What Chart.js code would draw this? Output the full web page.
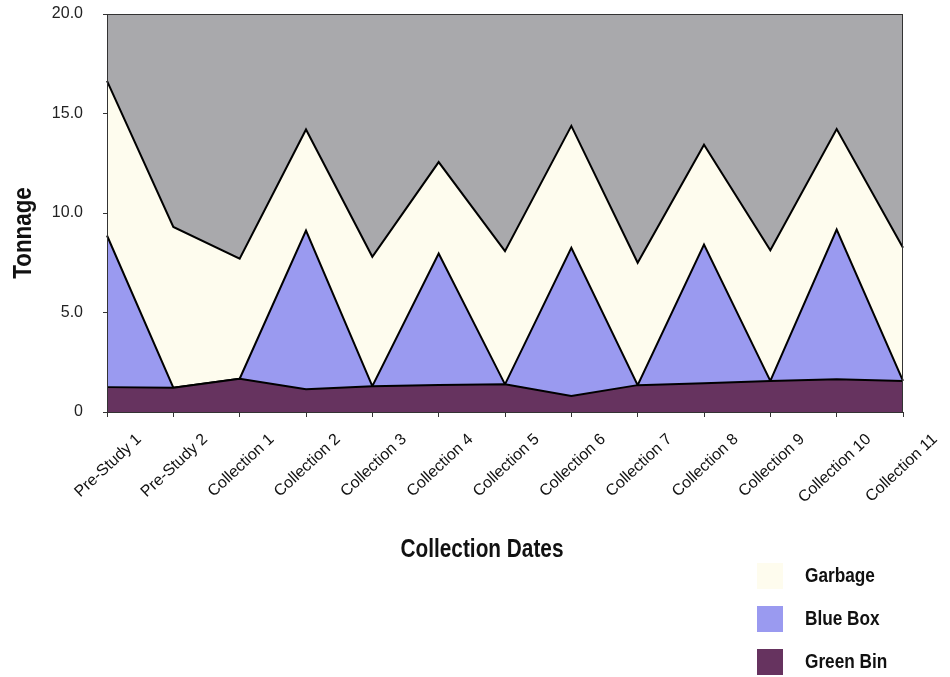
<!DOCTYPE html>
<html>
<head>
<meta charset="utf-8">
<title>Tonnage by collection date</title>
<script src="https://cdn.jsdelivr.net/npm/chart.js@4/dist/chart.umd.min.js"></script>
<style>
  html, body { margin: 0; padding: 0; background: #fff; }
  #chart { display: block; }
</style>
</head>
<body>
<canvas id="chart" width="950" height="677"></canvas>
<script>
const categories = [
  "Pre-Study 1", "Pre-Study 2", "Collection 1", "Collection 2", "Collection 3",
  "Collection 4", "Collection 5", "Collection 6", "Collection 7", "Collection 8",
  "Collection 9", "Collection 10", "Collection 11"
];

// tonnes per collection, stacked bottom to top
const greenBin = [1.25, 1.22, 1.67, 1.14, 1.30, 1.36, 1.39, 0.80, 1.35, 1.45, 1.56, 1.64, 1.56];
const blueBox = [7.62, 0, 0, 7.98, 0, 6.60, 0, 7.45, 0, 6.96, 0, 7.53, 0];
const garbage = [7.77, 8.08, 6.03, 5.08, 6.50, 4.60, 6.69, 6.13, 6.15, 5.02, 6.57, 5.05, 6.69];

const yTicks = [0, 5, 10, 15, 20];

const boldFont = "'Liberation Sans', Arial, sans-serif";

// draws text squeezed horizontally so it reads like a condensed bold face
function narrowText(ctx, text, x, y, size, squeeze) {
  ctx.save();
  ctx.font = "bold " + size + "px " + boldFont;
  ctx.translate(x, y);
  ctx.scale(squeeze, 1);
  ctx.fillText(text, 0, 0);
  ctx.restore();
}

// grey plot background + border, axis titles and the little legend
const decorPlugin = {
  id: "decor",
  beforeDraw(chart) {
    const { ctx, chartArea: a } = chart;
    ctx.save();
    ctx.fillStyle = "#a9a9ac";
    ctx.fillRect(a.left, a.top, a.right - a.left, a.bottom - a.top);
    ctx.restore();
  },
  afterDraw(chart) {
    const { ctx, chartArea: a } = chart;
    ctx.save();
    ctx.strokeStyle = "#333";
    ctx.lineWidth = 1;
    ctx.strokeRect(a.left + 0.5, a.top + 0.5, a.right - a.left - 1, a.bottom - a.top);

    ctx.fillStyle = "#111";
    ctx.textAlign = "center";
    ctx.textBaseline = "middle";
    narrowText(ctx, "Collection Dates", 482, 550, 26, 0.8);

    ctx.translate(24, 233);
    ctx.rotate(-Math.PI / 2);
    narrowText(ctx, "Tonnage", 0, 0, 26, 0.86);
    ctx.restore();

    // legend, top to bottom in stack order
    ctx.save();
    ctx.textAlign = "left";
    ctx.textBaseline = "middle";
    const items = chart.data.datasets.slice().reverse();
    items.forEach((ds, i) => {
      const cy = 576 + i * 43;
      ctx.fillStyle = ds.backgroundColor;
      ctx.fillRect(757, cy - 13, 26, 26);
      ctx.fillStyle = "#111";
      narrowText(ctx, ds.label, 805, cy, 21, 0.82);
    });
    ctx.restore();
  }
};

const ctx = document.getElementById("chart").getContext("2d");
const myChart = new Chart(ctx, {
  type: "line",
  data: {
    labels: categories,
    datasets: [
      {
        label: "Green Bin",
        data: greenBin,
        backgroundColor: "#66335f",
        borderColor: "#000",
        borderWidth: 2,
        fill: "origin"
      },
      {
        label: "Blue Box",
        data: blueBox,
        backgroundColor: "#9a9af0",
        borderColor: "#000",
        borderWidth: 2,
        fill: "-1"
      },
      {
        label: "Garbage",
        data: garbage,
        backgroundColor: "#fefcee",
        borderColor: "#000",
        borderWidth: 2,
        fill: "-1"
      }
    ]
  },
  options: {
    responsive: false,
    animation: false,
    layout: { padding: { left: 0, right: 47, top: 14, bottom: 0 } },
    elements: {
      point: { radius: 0, hoverRadius: 0 },
      line: { tension: 0 }
    },
    plugins: {
      legend: { display: false },
      tooltip: { enabled: false },
      filler: { propagate: false }
    },
    scales: {
      x: {
        offset: false,
        grid: { display: true, drawOnChartArea: false, tickLength: 5, color: "#333" },
        border: { color: "#333" },
        ticks: {
          autoSkip: false,
          minRotation: 43,
          maxRotation: 43,
          padding: 13,
          labelOffset: 32,
          color: "#111",
          font: { family: "'Liberation Sans', Arial, sans-serif", size: 16 }
        },
        afterFit(scale) { scale.height = 265; }
      },
      y: {
        stacked: true,
        min: 0,
        max: 20,
        afterBuildTicks(scale) { scale.ticks = yTicks.map((v) => ({ value: v })); },
        grid: { display: true, drawOnChartArea: false, tickLength: 4, color: "#333" },
        border: { color: "#333" },
        ticks: {
          padding: 20,
          color: "#222",
          font: { family: "'Liberation Sans', Arial, sans-serif", size: 16 },
          callback: (v) => (v === 0 ? "0" : v.toFixed(1))
        },
        afterFit(scale) {
          scale.width = 107;
          scale.paddingTop = 0;
          scale.paddingBottom = 0;
        }
      }
    }
  },
  plugins: [decorPlugin]
});
</script>
</body>
</html>
